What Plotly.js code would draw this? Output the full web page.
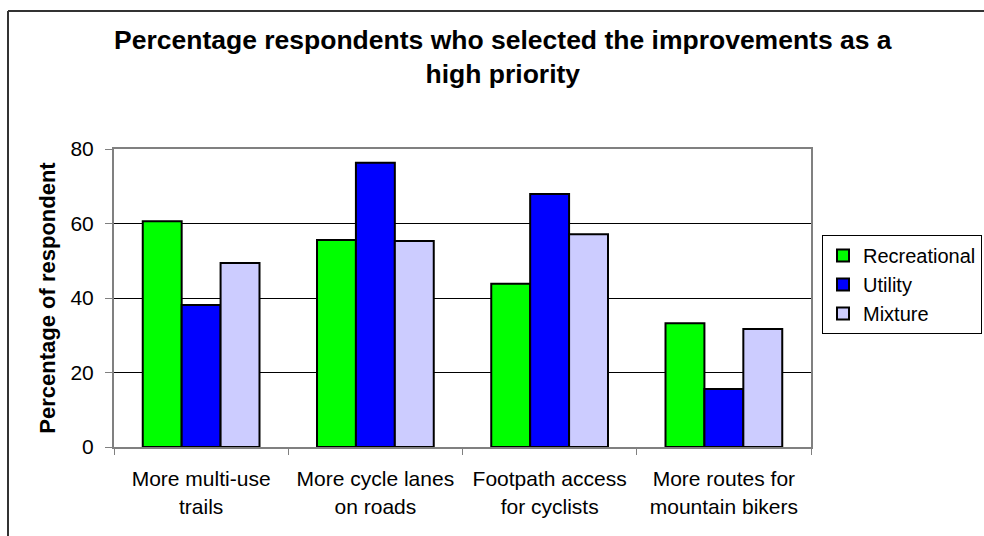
<!DOCTYPE html>
<html>
<head>
<meta charset="utf-8">
<script src="https://cdn.plot.ly/plotly-3.0.1.min.js"></script>
<style>
html,body{margin:0;padding:0;background:#fff;overflow:hidden;}
#chart{width:984px;height:536px;}
</style>
</head>
<body>
<div id="chart"></div>
<script>
const categories = [
  "More multi-use<br>trails",
  "More cycle lanes<br>on roads",
  "Footpath access<br>for cyclists",
  "More routes for<br>mountain bikers"
];
const seriesNames = ["Recreational", "Utility", "Mixture"];
const recreational = [60.6, 55.6, 43.8, 33.2];
const utility = [38.1, 76.3, 67.9, 15.6];
const mixture = [49.4, 55.3, 57.1, 31.7];
const seriesColors = ["#00FF00", "#0000FF", "#CCCCFF"];
const yTicks = [0, 20, 40, 60, 80];

const FONT = "Arial, 'Liberation Sans', sans-serif";
const values = [recreational, utility, mixture];

const traces = values.map((v, i) => ({
  type: "bar",
  name: seriesNames[i],
  x: categories,
  y: v,
  marker: { color: seriesColors[i], line: { color: "#000", width: 2 } },
  hoverinfo: "x+y+name"
}));

// plot area in pixels: x 114..811, y 149..447
const L = 114, R = 811, T = 149, B = 447;
const pw = R - L, ph = B - T;
const px = v => (v - L) / pw;
const py = v => (B - v) / ph;

const layout = {
  width: 984,
  height: 536,
  margin: { l: L, r: 984 - R, t: T, b: 536 - B, pad: 0, autoexpand: false },
  paper_bgcolor: "#fff",
  plot_bgcolor: "#fff",
  font: { family: FONT, color: "#000", size: 21 },
  title: {
    text: "Percentage respondents who selected the improvements as a<br>high priority",
    font: { family: FONT, size: 26.5, color: "#000", weight: "bold" },
    xref: "container", x: 0.511, xanchor: "center",
    yref: "container", y: 1 - 49 / 536, yanchor: "top"
  },
  barmode: "group",
  bargap: 0.33,
  bargroupgap: 0,
  xaxis: {
    type: "category",
    tickson: "boundaries",
    ticks: "outside",
    ticklen: 6,
    tickcolor: "#808080",
    tickwidth: 1,
    showline: true,
    linecolor: "#808080",
    linewidth: 2,
    mirror: true,
    showgrid: false,
    tickfont: { family: FONT, size: 21, color: "#000" },
    ticklabelstandoff: 12,
    fixedrange: true
  },
  yaxis: {
    range: [0, 80],
    tickvals: yTicks,
    ticktext: yTicks.map(String),
    ticks: "outside",
    ticklen: 7,
    tickcolor: "#808080",
    tickwidth: 1,
    showline: true,
    linecolor: "#808080",
    linewidth: 2,
    mirror: true,
    showgrid: true,
    gridcolor: "#000",
    gridwidth: 1,
    zeroline: false,
    tickfont: { family: FONT, size: 21, color: "#000" },
    ticklabelstandoff: 7,
    title: {
      text: "Percentage of respondent",
      font: { family: FONT, size: 22, color: "#000", weight: "bold" },
      standoff: 9
    },
    fixedrange: true
  },
  legend: {
    x: px(822), y: py(235),
    xanchor: "left", yanchor: "top",
    bgcolor: "#fff",
    bordercolor: "#000",
    borderwidth: 1,
    font: { family: FONT, size: 20, color: "#000" },
    traceorder: "normal"
  },
  shapes: [
    { type: "line", xref: "paper", yref: "paper",
      x0: px(8), x1: px(984), y0: py(11), y1: py(11),
      line: { color: "#333", width: 2 }, layer: "below" },
    { type: "line", xref: "paper", yref: "paper",
      x0: px(8), x1: px(8), y0: py(11), y1: py(536),
      line: { color: "#333", width: 2 }, layer: "below" }
  ],
  showlegend: true
};

Plotly.newPlot("chart", traces, layout, { displayModeBar: false });
</script>
</body>
</html>
